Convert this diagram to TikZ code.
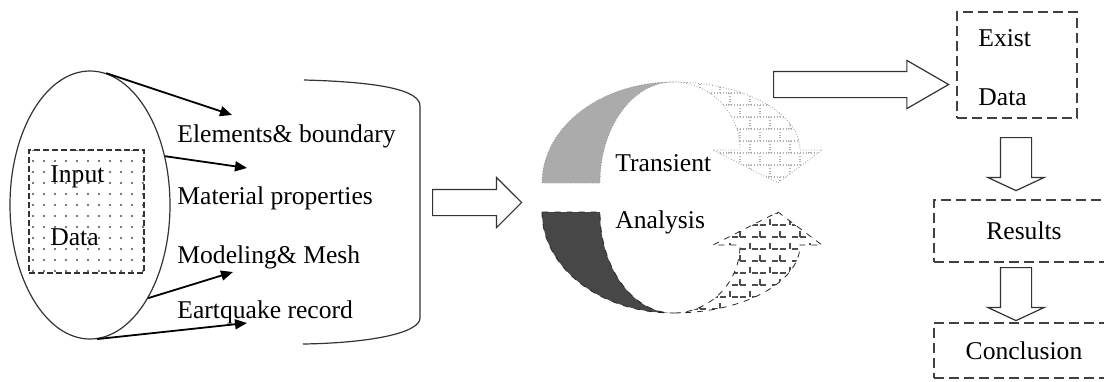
\documentclass[tikz,border=0pt]{standalone}
\usepackage{fontspec}
\setmainfont{Liberation Serif}
\usepackage{tikz}
\usetikzlibrary{arrows.meta,positioning,shapes.geometric,shapes.arrows,patterns,patterns.meta}

% brick wall fill for the two curved arrows
\pgfdeclarepatternformonly{brickwall}{\pgfqpoint{-0.5pt}{-0.5pt}}{\pgfqpoint{10.5pt}{12.5pt}}{\pgfqpoint{10pt}{12pt}}{
  \pgfsetlinewidth{0.6pt}
  \pgfpathmoveto{\pgfqpoint{0pt}{0pt}}\pgfpathlineto{\pgfqpoint{10pt}{0pt}}
  \pgfpathmoveto{\pgfqpoint{0pt}{6pt}}\pgfpathlineto{\pgfqpoint{10pt}{6pt}}
  \pgfpathmoveto{\pgfqpoint{0pt}{0pt}}\pgfpathlineto{\pgfqpoint{0pt}{6pt}}
  \pgfpathmoveto{\pgfqpoint{5pt}{6pt}}\pgfpathlineto{\pgfqpoint{5pt}{12pt}}
  \pgfusepath{stroke}}

\begin{document}
\begin{tikzpicture}[x=0.5pt, y=-0.5pt,
    lbl/.style={inner sep=0pt, anchor=west, font=\fontsize{12.8}{15}\selectfont},
    dbox/.style={draw=black!75, line width=0.75pt, dash pattern=on 5pt off 2.5pt, inner sep=0pt, font=\fontsize{12.8}{15}\selectfont},
    hollow/.style={single arrow, draw=black!80, line width=0.6pt, fill=white, inner xsep=0pt, anchor=tail},
    arrow/.style={-{Triangle[length=6pt,width=5pt]}, line width=0.9pt}
]
\useasboundingbox (0,0) rectangle (1104,381);

% input cylinder
\node[draw=black!80, ellipse, line width=0.6pt, minimum width=80pt, minimum height=134pt, inner sep=0pt] (inp) at (90,205) {};
\draw[black!80, line width=0.6pt] (304,80) .. controls (380,82) and (420,90) .. (420,106) -- (420,318) .. controls (420,333) and (370,343) .. (303,344);
\node[draw=black!80, line width=0.7pt, dash pattern=on 3pt off 1.5pt, pattern={Dots[radius=0.55pt, distance=5.5pt]}, pattern color=black!70, minimum width=57.5pt, minimum height=61.5pt, inner sep=0pt] (inbox) at (86.5,211.5) {};
\node[lbl] (tinput) at (50,177) {Input};
\node[lbl] (tindata) at (50,237) {Data};

\node[lbl] (lelem) at (177,136) {Elements\& boundary};
\node[lbl] (lmat)  at (177,198) {Material properties};
\node[lbl] (lmesh) at (177,257) {Modeling\& Mesh};
\node[lbl] (lrec)  at (177,312) {Eartquake record};

\coordinate (e1) at (232,115);
\coordinate (e2) at (247,168);
\coordinate (e3) at (233,272);
\coordinate (e4) at (247,323);
\draw[arrow] (inp.83) -- (e1);
\draw[arrow] (inp.33) -- (e2);
\draw[arrow] (inp.-58) -- (e3);
\draw[arrow] (inp.-87) -- (e4);

\node[hollow, inner ysep=6.25pt, minimum height=44.5pt, single arrow head extend=6pt, single arrow tip angle=90] (go1) at (432,202.5) {};

% transient analysis cycle
\filldraw[fill=black!33, draw=black!40, densely dotted] (542,183) arc[start angle=180, end angle=270, x radius=131, y radius=101] arc[start angle=270, end angle=180, x radius=73, y radius=101] -- cycle;
\filldraw[pattern=brickwall, pattern color=black!30, draw=black!40, densely dotted] (673,82) arc[start angle=270, end angle=360, x radius=127, y radius=68] -- (822,150) -- (778,183) -- (713,150) -- (740,150) arc[start angle=0, end angle=-90, x radius=67, y radius=68] -- cycle;
\filldraw[fill=black!72, draw=black!85, dashed] (542,212) arc[start angle=180, end angle=90, x radius=131, y radius=101] arc[start angle=90, end angle=180, x radius=73, y radius=101] -- cycle;
\filldraw[pattern=brickwall, pattern color=black!70, draw=black!85, dashed] (673,313) arc[start angle=90, end angle=0, x radius=127, y radius=68] -- (822,245) -- (778,212) -- (713,245) -- (740,245) arc[start angle=0, end angle=90, x radius=67, y radius=68] -- cycle;
\node[lbl] (ttrans) at (615,163) {Transient};
\node[lbl] (tanal)  at (615,222) {Analysis};

\node[hollow, inner ysep=6.25pt, minimum height=87.5pt, single arrow head extend=5.5pt, single arrow tip angle=60] (go2) at (773,84.5) {};

% output column
\node[dbox, minimum width=60pt, minimum height=53pt] (exist) at (1017,65) {};
\node[lbl] (texist) at (978,38) {Exist};
\node[lbl] (tdata)  at (978,97) {Data};
\node[hollow, rotate=-90, inner ysep=7.5pt, minimum height=26.5pt, single arrow head extend=6.25pt, single arrow tip angle=130] (go3) at (1016,137) {};
\node[dbox, minimum width=90pt, minimum height=31pt] (res) at (1024,231) {Results};
\node[hollow, rotate=-90, inner ysep=7.5pt, minimum height=26.5pt, single arrow head extend=6.25pt, single arrow tip angle=130] (go4) at (1016,267) {};
\node[dbox, minimum width=90pt, minimum height=27.5pt] (concl) at (1024,350.5) {Conclusion};
\end{tikzpicture}
\end{document}
